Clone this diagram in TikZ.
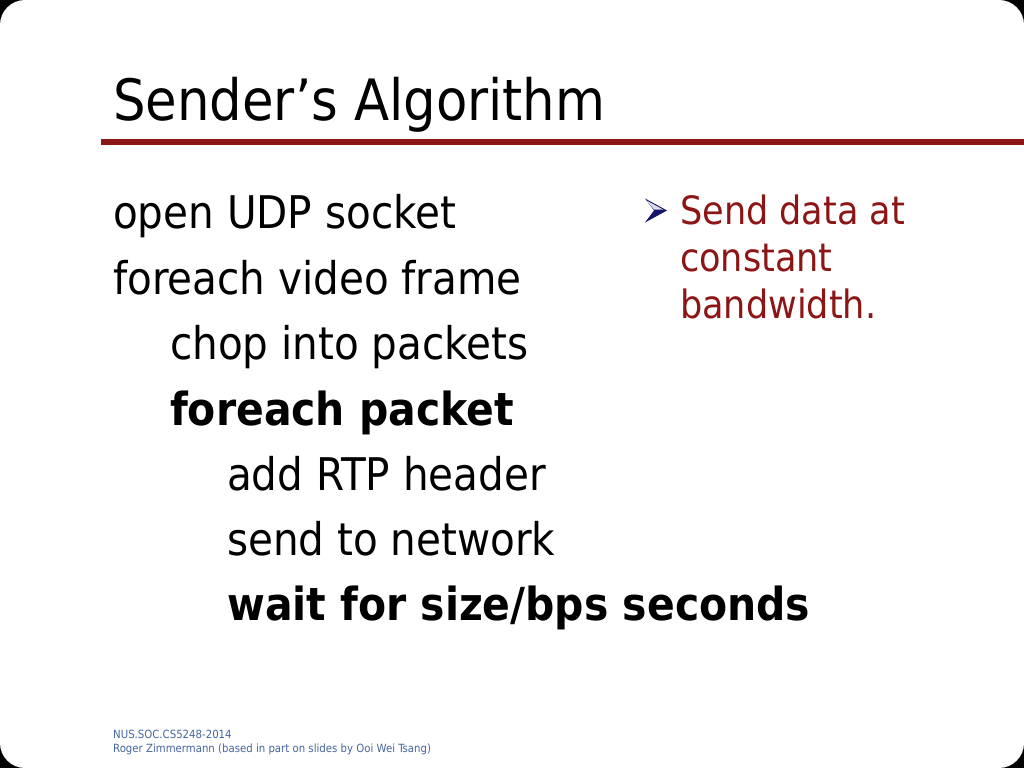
\documentclass[tikz,border=0pt]{standalone}
\usepackage{fontspec}
\setmainfont{DejaVu Sans Condensed}
\usetikzlibrary{positioning}
\definecolor{slidered}{RGB}{140,22,22}
\definecolor{arrownavy}{RGB}{20,20,110}
\definecolor{footblue}{RGB}{70,100,160}

\begin{document}
\begin{tikzpicture}[x=1pt,y=-1pt,
        line/.style={anchor=base west,inner sep=0pt,font=\fontsize{45}{50}\selectfont},
        strong/.style={line,font=\fontsize{45.5}{50}\selectfont\bfseries},
        note/.style={anchor=base west,inner sep=0pt,text=slidered,font=\fontsize{39}{46}\selectfont},
        foot/.style={anchor=base west,inner sep=0pt,text=footblue,font=\fontsize{11.3}{13}\selectfont}]
        \fill[black] (0,0) rectangle (1024,768);
        \fill[white,rounded corners=25pt] (0,0) rectangle (1024,768);
        \useasboundingbox (0,0) rectangle (1024,768);
        % title
        \node[anchor=base west,inner sep=0pt,font=\fontsize{57}{64}\selectfont] (title) at (113,120) {Sender’s Algorithm};
        \fill[slidered] (101,138.5) rectangle (1024,144.5);
        % algorithm
        \node[line] (open) at (113,228) {open UDP socket};
        \node[line] (frame) at (113,294) {foreach video frame};
        \node[line] (chop) at (170,359) {chop into packets};
        \node[strong] (packet) at (170,425) {foreach packet};
        \node[line] (rtp) at (227,490) {add RTP header};
        \node[line] (send) at (227,555) {send to network};
        \node[strong] (wait) at (227,620) {wait for size/bps seconds};
        % side note
        \fill[arrownavy] (645,198.5) -- (667,210.5) -- (645,222.5) -- (654,210.5) -- cycle;
        \fill[white!85!arrownavy] (646.5,200.5) -- (663,209.5) -- (654,209.5) -- cycle;
        \node[note] (note1) at (680,224) {Send data at};
        \node[note] (note2) at (680,271) {constant};
        \node[note] (note3) at (680,318) {bandwidth.};
        % footer
        \node[foot] (course) at (113,738) {NUS.SOC.CS5248-2014};
        \node[foot] (credit) at (113,752) {Roger Zimmermann (based in part on slides by Ooi Wei Tsang)};
\end{tikzpicture}
\end{document}
